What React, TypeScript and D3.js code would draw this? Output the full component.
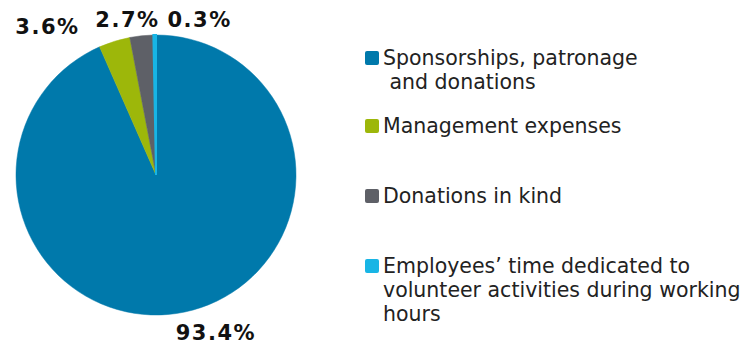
import React from "react";
import * as d3 from "d3";

const categories = [
  "Sponsorships, patronage and donations",
  "Management expenses",
  "Donations in kind",
  "Employees’ time dedicated to volunteer activities during working hours",
];
const values = [93.4, 3.6, 2.7, 0.3];
const valueLabels = ["93.4%", "3.6%", "2.7%", "0.3%"];
const legendLines = [
  ["Sponsorships, patronage", " and donations"],
  ["Management expenses"],
  ["Donations in kind"],
  ["Employees’ time dedicated to", "volunteer activities during working", "hours"],
];
const colors = ["#0079AB", "#9DB70A", "#5E6067", "#18B5E5"];

const W = 745;
const H = 345;
const cx = 156;
const cy = 175;
const R = 140;
// label placement relative to outer centroid (radius 150)
const labelOffsets = [
  [29, 18],
  [-64, 2],
  [-13, 1],
  [45, 2],
];
const legendBaselines = [65, 133, 203, 273];
const lineH = 24;

export default function App() {
  const pie = d3
    .pie<number>()
    .sort(null)
    .value((d) => d)
    .startAngle(0)
    .endAngle(2 * Math.PI);
  const arcs = pie(values);
  const arc = d3.arc<d3.PieArcDatum<number>>().innerRadius(0).outerRadius(R);
  const labelArc = d3.arc<d3.PieArcDatum<number>>().innerRadius(150).outerRadius(150);

  return (
    <svg
      width={W}
      height={H}
      style={{ position: "absolute", left: 0, top: 0, background: "#fff" }}
      fontFamily="'DejaVu Sans', Verdana, sans-serif"
    >
      <g transform={`translate(${cx},${cy})`}>
        {arcs.map((a, i) => (
          <path
            key={i}
            d={arc(a) || ""}
            fill={colors[i]}
            stroke={colors[i]}
            strokeWidth={i === 3 ? 2 : 0.5}
          />
        ))}
        {arcs.map((a, i) => {
          const [x, y] = labelArc.centroid(a);
          return (
            <text
              key={i}
              x={x + labelOffsets[i][0]}
              y={y + labelOffsets[i][1]}
              textAnchor="middle"
              fontWeight="bold"
              fontSize={21}
              letterSpacing={1.5}
              fill="#111"
            >
              {valueLabels[i]}
            </text>
          );
        })}
      </g>
      {categories.map((c, i) => (
        <g key={c}>
          <rect
            x={365}
            y={legendBaselines[i] - 14}
            width={14}
            height={14}
            rx={2}
            fill={colors[i]}
          />
          <text fontSize={20.5} fill="#222" style={{ whiteSpace: "pre" }}>
            {legendLines[i].map((ln, j) => (
              <tspan key={j} x={383} y={legendBaselines[i] + j * lineH}>
                {ln}
              </tspan>
            ))}
          </text>
        </g>
      ))}
    </svg>
  );
}
